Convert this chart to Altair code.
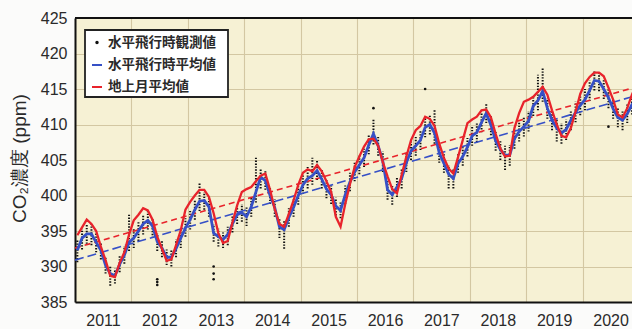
import altair as alt
import pandas as pd

# Monthly series, January 2011 .. December 2020 (one row of twelve per year)
ground_ppm = [
    394.4, 395.5, 396.6, 396.0, 395.0, 392.8, 390.9, 388.7, 388.5, 390.5, 392.0, 394.5,
    396.5, 397.3, 398.2, 397.9, 396.6, 394.2, 392.5, 390.8, 391.0, 393.0, 395.1, 398.0,
    399.1, 400.0, 400.8, 400.8, 399.8, 397.5, 394.7, 393.3, 393.6, 396.2, 398.6, 400.5,
    400.9, 401.2, 402.0, 402.8, 403.1, 400.8, 398.1, 396.0, 395.6, 397.4, 399.3, 401.5,
    403.2, 403.7, 403.4, 404.3, 403.4, 402.0, 400.5, 397.0, 395.6, 398.8, 401.6, 404.0,
    405.5, 406.9, 407.9, 408.0, 407.0, 404.7, 402.7, 400.9, 400.3, 402.9, 405.5, 407.8,
    409.2, 409.8, 411.1, 410.8, 409.8, 407.3, 405.3, 403.8, 403.1, 405.4, 407.8, 410.2,
    410.7, 411.1, 412.0, 412.1, 411.0, 408.7, 406.6, 405.5, 405.6, 409.5, 411.6, 413.2,
    413.5, 413.9, 414.6, 415.3, 414.2, 412.0, 410.0, 408.4, 408.2, 409.5, 411.8, 414.3,
    415.8, 416.7, 417.3, 417.3, 416.8, 415.2, 413.5, 411.4, 411.0, 412.3, 414.2, 415.6,
]

flight_ppm = [
    392.3, 394.0, 394.6, 394.6, 393.4, 392.3, 390.2, 389.0, 388.7, 390.3, 391.6, 393.4,
    394.0, 395.0, 396.0, 396.5, 395.7, 393.5, 392.6, 391.3, 391.3, 392.5, 394.0, 395.4,
    396.6, 398.0, 399.2, 399.3, 398.4, 394.7, 394.2, 393.8, 394.5, 396.0, 397.3, 397.6,
    397.0, 398.4, 400.5, 402.6, 402.1, 400.0, 398.3, 395.6, 395.2, 396.9, 398.3, 400.0,
    401.5, 402.4, 402.8, 403.5, 402.3, 400.9, 400.1, 398.5, 397.9, 400.1, 401.9, 403.3,
    404.3, 405.3, 407.1, 408.7, 407.0, 404.8, 400.8, 400.1, 401.2, 402.4, 404.6, 406.3,
    407.0, 407.8, 409.6, 410.0, 408.8, 406.0, 404.5, 403.0, 402.4, 404.5, 405.5, 406.8,
    408.4, 408.9, 410.3, 411.6, 409.9, 407.7, 406.5, 405.7, 405.7, 408.0, 409.0, 409.7,
    410.5, 412.6, 413.4, 414.7, 412.3, 410.6, 409.5, 408.8, 409.3, 410.6, 411.7, 412.7,
    413.5, 414.8, 416.2, 416.1, 415.0, 413.8, 412.2, 411.0, 410.6, 411.5, 412.8, 413.6,
]

# Spread of the individual level-flight samples in each month
obs_low = [
    390.6, 392.4, 393.2, 393.0, 392.0, 391.0, 389.0, 387.3, 387.6, 389.2, 390.4, 392.2,
    392.6, 393.6, 394.5, 395.2, 394.0, 392.2, 391.3, 390.2, 390.0, 391.3, 392.6, 394.2,
    395.2, 396.6, 397.8, 398.0, 397.0, 393.5, 392.8, 392.6, 393.0, 394.8, 396.0, 396.3,
    395.7, 397.0, 399.0, 401.0, 400.8, 398.8, 397.0, 394.0, 392.5, 395.6, 397.0, 398.7,
    400.2, 401.0, 401.5, 402.2, 401.0, 399.6, 398.8, 397.2, 396.8, 398.8, 400.6, 402.0,
    403.0, 404.0, 405.8, 407.2, 405.6, 403.3, 399.4, 398.7, 399.8, 401.0, 403.3, 405.0,
    405.6, 406.4, 408.2, 408.6, 407.3, 404.6, 403.2, 401.0, 401.0, 403.2, 404.2, 405.5,
    407.0, 407.5, 408.9, 410.2, 408.5, 406.3, 405.0, 403.6, 404.2, 406.6, 407.6, 408.3,
    409.0, 411.2, 412.0, 413.2, 410.8, 409.2, 407.6, 407.3, 407.8, 409.2, 410.3, 411.3,
    412.0, 413.3, 414.8, 414.7, 413.6, 412.3, 410.8, 409.6, 409.2, 410.2, 411.4, 412.3,
]

obs_high = [
    393.8, 395.3, 395.9, 396.0, 394.8, 393.4, 391.4, 390.0, 389.7, 391.5, 392.9, 397.4,
    395.3, 396.4, 397.2, 397.8, 396.8, 394.7, 393.6, 392.4, 392.4, 393.8, 395.4, 396.8,
    397.8, 399.3, 401.9, 400.5, 399.6, 396.0, 395.3, 394.8, 395.6, 397.2, 398.5, 398.8,
    398.3, 399.7, 405.3, 403.8, 403.4, 401.2, 399.5, 396.8, 396.4, 398.2, 399.5, 401.3,
    402.8, 404.0, 405.3, 405.0, 403.6, 402.2, 401.4, 399.7, 399.0, 401.4, 403.2, 404.6,
    405.6, 406.6, 408.6, 410.8, 408.4, 406.2, 402.2, 401.4, 402.6, 403.8, 406.0, 407.6,
    408.3, 409.2, 411.0, 411.4, 412.0, 407.4, 405.8, 404.3, 403.8, 405.8, 406.8, 408.1,
    409.7, 410.3, 411.7, 412.9, 411.2, 409.0, 407.8, 407.0, 407.1, 409.4, 410.4, 411.1,
    411.9, 414.0, 417.0, 417.9, 413.7, 412.0, 410.8, 410.2, 410.7, 412.0, 413.2, 414.2,
    415.0, 416.2, 417.6, 417.4, 416.4, 415.2, 413.6, 412.4, 412.0, 412.8, 414.2, 415.0,
]

# Isolated samples well away from the monthly spread: (year, month, ppm)
stray_year = [2012, 2012, 2012, 2013, 2013, 2013, 2016, 2017, 2020]
stray_month = [6, 6, 6, 6, 6, 6, 4, 3, 6]
stray_ppm = [387.4, 387.8, 388.2, 388.2, 389.0, 390.0, 412.3, 415.0, 409.7]

# Linear trends (decimal year -> ppm)
trend_year = [2011.0, 2021.0]
trend_ground = [392.6, 415.4]
trend_flight = [390.9, 414.2]

year_ticks = list(range(2011, 2021))
ppm_ticks = [385, 390, 395, 400, 405, 410, 415, 420, 425]
legend_labels = ["水平飛行時観測値", "水平飛行時平均値", "地上月平均値"]

RED = "#e8232b"
BLUE = "#3650c6"
INK = "#111111"
GRID = "#d3c7a2"
LATIN = "Liberation Sans, Arial, sans-serif"
CJK = "Noto Sans CJK JP, sans-serif"

mid_month = [2011 + (i + 0.5) / 12 for i in range(len(ground_ppm))]
monthly = pd.DataFrame({
    "t": mid_month,
    "ground": ground_ppm,
    "flight": flight_ppm,
    "lo": obs_low,
    "hi": obs_high,
})
strays = pd.DataFrame({
    "t": [y + (m - 0.5) / 12 for y, m in zip(stray_year, stray_month)],
    "ppm": stray_ppm,
})
trends = pd.DataFrame({"t": trend_year, "ground": trend_ground, "flight": trend_flight})

x_scale = alt.Scale(domain=[2011, 2020.876], nice=False, zero=False)
y_scale = alt.Scale(domain=[385, 425], nice=False, zero=False)

x_axis = alt.Axis(
    values=year_ticks, format="d", title=None, labelOffset=28, labelPadding=10,
    ticks=False, grid=True, gridColor=GRID, gridWidth=1.1,
    domainColor=INK, domainWidth=2, labelFlush=False,
)
y_axis = alt.Axis(
    values=ppm_ticks, title="CO₂濃度 (ppm)", labelPadding=8, ticks=False,
    grid=True, gridColor=GRID, gridWidth=1.1, domainColor=INK, domainWidth=2,
    titleFont=LATIN, titleFontSize=19, titleFontWeight="normal", titleColor="#2a2a2a",
    titleX=-50, titleY=140, titleAngle=270, titleBaseline="alphabetic",
)


def X(field="t"):
    return alt.X(f"{field}:Q", scale=x_scale, axis=x_axis)


def Y(field):
    return alt.Y(f"{field}:Q", scale=y_scale, axis=y_axis)


samples = alt.Chart(monthly).mark_rule(
    color=INK, strokeWidth=2, strokeDash=[1.4, 1.5], clip=True
).encode(x=X(), y=Y("lo"), y2="hi")

stray_dots = alt.Chart(strays).mark_circle(color=INK, size=7, opacity=1, clip=True).encode(
    x=X(), y=Y("ppm")
)

trend_g = alt.Chart(trends).mark_line(
    color=RED, strokeWidth=1.6, strokeDash=[6, 4], clip=True
).encode(x=X(), y=Y("ground"))

trend_f = alt.Chart(trends).mark_line(
    color=BLUE, strokeWidth=1.6, strokeDash=[9, 4], clip=True
).encode(x=X(), y=Y("flight"))

flight_line = alt.Chart(monthly).mark_line(
    color=BLUE, strokeWidth=2.8, clip=True
).encode(x=X(), y=Y("flight"))

ground_line = alt.Chart(monthly).mark_line(
    color=RED, strokeWidth=2.3, clip=True
).encode(x=X(), y=Y("ground"))

top_edge = alt.Chart(pd.DataFrame({"ppm": [425]})).mark_rule(
    color=INK, strokeWidth=2
).encode(y=Y("ppm"))

# Legend box in the upper-left corner of the plot
one = alt.Data(values=[{}])
box = alt.Chart(one).mark_rect(fill="white", stroke="#222222", strokeWidth=1.8).encode(
    x=alt.value(10), x2=alt.value(153), y=alt.value(12), y2=alt.value(79)
)
key_dot = alt.Chart(one).mark_circle(color=INK, size=12, opacity=1).encode(
    x=alt.value(22), y=alt.value(24.5)
)
key_blue = alt.Chart(one).mark_rule(color=BLUE, strokeWidth=2).encode(
    x=alt.value(17), x2=alt.value(27), y=alt.value(47)
)
key_red = alt.Chart(one).mark_rule(color=RED, strokeWidth=2).encode(
    x=alt.value(17), x2=alt.value(27), y=alt.value(69)
)
key_texts = [
    alt.Chart(one).mark_text(
        text=label, align="left", baseline="middle", font=CJK, fontSize=13.5,
        fontWeight="bold", color="#2a2a2a",
    ).encode(x=alt.value(33), y=alt.value(ypos))
    for label, ypos in zip(legend_labels, [24.5, 47, 69])
]

chart = alt.layer(
    samples, stray_dots, trend_g, trend_f, flight_line, ground_line, top_edge,
    box, key_dot, key_blue, key_red, *key_texts,
).properties(
    width=557,
    height=284,
    padding={"left": 75, "top": 18, "right": 0, "bottom": 27},
    autosize=alt.AutoSizeParams(type="none"),
    background="#fbfbfa",
).configure_view(
    fill="#f6f1d4", strokeWidth=0
).configure_axis(
    labelFont=LATIN, labelFontSize=16, labelColor="#2a2a2a",
)

chart.save("out.html", embed_options={"renderer": "svg", "actions": False})
